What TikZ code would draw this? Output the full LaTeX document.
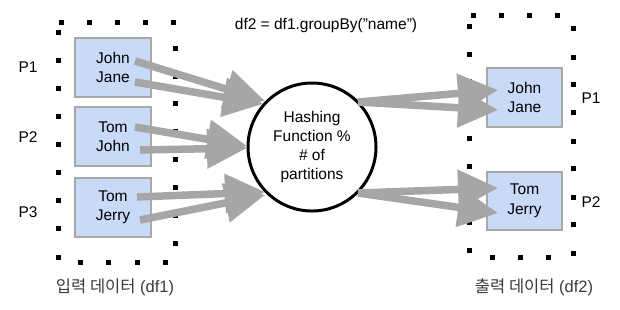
\documentclass[tikz,border=0pt]{standalone}
\usepackage{fontspec}
\setmainfont{Liberation Sans}
\newfontfamily\krfont{Noto Sans CJK KR}
\usetikzlibrary{arrows.meta}
\definecolor{boxfill}{HTML}{C9DAF8}
\definecolor{boxline}{HTML}{A8A8A8}
\definecolor{arrgray}{HTML}{A6A6A6}
\definecolor{labgray}{HTML}{3A3A3A}
\tikzset{
  sqdot/.style={fill=black},
  databox/.style={draw=boxline,line width=1.2pt,fill=boxfill,minimum width=76pt,minimum height=59pt,
    align=center,inner sep=0pt,font=\fontsize{15.5}{19.5}\selectfont},
  garrow/.style={draw=arrgray,line width=7.5pt,-{Triangle[length=40pt,width=38pt]}},
  plabel/.style={font=\fontsize{15.5}{19}\selectfont,inner sep=0pt},
  bottomlabel/.style={font=\fontsize{16.5}{20}\selectfont,text=labgray,inner sep=0pt}
}
\newcommand{\sqd}[2]{\fill[sqdot] (#1-2.5,#2-2.5) rectangle (#1+2.5,#2+2.5);}
\begin{document}
\begin{tikzpicture}[x=1pt,y=-1pt]
\useasboundingbox (0,0) rectangle (620,309);
% dotted frame, input
\foreach \x in {61,89,117,145,173} {\sqd{\x}{22}}
\foreach \y in {32,60,88,116,144,172,200,228,257} {\sqd{58}{\y}}
\foreach \y in {48,76,103,131,159,187,215,243} {\sqd{175}{\y}}
\foreach \x in {80,108,137,165} {\sqd{\x}{262}}
% dotted frame, output
\foreach \x in {473,501,529,557} {\sqd{\x}{15}}
\foreach \y in {26,54,81,109,138,166,193,222,250} {\sqd{469}{\y}}
\foreach \y in {28,57,84,112,141,168,197,224,253} {\sqd{573}{\y}}
\foreach \x in {492,520,548} {\sqd{\x}{257}}
% title
\node[plabel] (title) at (326,25) {df2 = df1.groupBy("name")};
% input boxes
\node[databox] (b1) at (113,67.5) {John\\Jane};
\node[databox] (b2) at (113,136.5) {Tom\\John};
\node[databox] (b3) at (113,207.5) {Tom\\Jerry};
% output boxes
\node[databox,minimum width=75pt] (o1) at (524.5,97.5) {John\\Jane};
\node[databox,minimum width=75pt,minimum height=58pt] (o2) at (524.5,201) {Tom\\Jerry};
% hash circle
\node[draw=black,line width=3pt,circle,fill=white,minimum size=128pt,inner sep=0pt,align=center,
  font=\fontsize{15.5}{19.3}\selectfont] (hash) at (312,147) {Hashing\\Function \%\\\# of\\partitions};
% partition labels
\node[plabel] (p1) at (28,67) {P1};
\node[plabel] (p2) at (28,137) {P2};
\node[plabel] (p3) at (28,212) {P3};
\node[plabel] (q1) at (591,98) {P1};
\node[plabel] (q2) at (591,202) {P2};
% bottom labels
\node[bottomlabel] (in) at (115,287) {{\krfont 입력 데이터} (df1)};
\node[bottomlabel] (out) at (534,287) {{\krfont 출력 데이터} (df2)};
% arrow coordinates
\coordinate (s1) at (135,61);  \coordinate (t1) at (265,101);
\coordinate (s2) at (135,82);  \coordinate (t2) at (263,104);
\coordinate (s3) at (135,127); \coordinate (t3) at (247,146);
\coordinate (s4) at (140,150); \coordinate (t4) at (247,148);
\coordinate (s5) at (137,197); \coordinate (t5) at (265,192);
\coordinate (s6) at (140,220); \coordinate (t6) at (265,195);
\coordinate (r1) at (358,102); \coordinate (u1) at (498,90);
\coordinate (r2) at (358,102); \coordinate (u2) at (498,110);
\coordinate (r3) at (358,193); \coordinate (u3) at (498,188);
\coordinate (r4) at (358,193); \coordinate (u4) at (498,213);
% arrows
\draw[garrow] (s1) -- (t1);
\draw[garrow] (s2) -- (t2);
\draw[garrow] (s3) -- (t3);
\draw[garrow] (s4) -- (t4);
\draw[garrow] (s5) -- (t5);
\draw[garrow] (s6) -- (t6);
\draw[garrow] (r1) -- (u1);
\draw[garrow] (r2) -- (u2);
\draw[garrow] (r3) -- (u3);
\draw[garrow] (r4) -- (u4);
\end{tikzpicture}
\end{document}
